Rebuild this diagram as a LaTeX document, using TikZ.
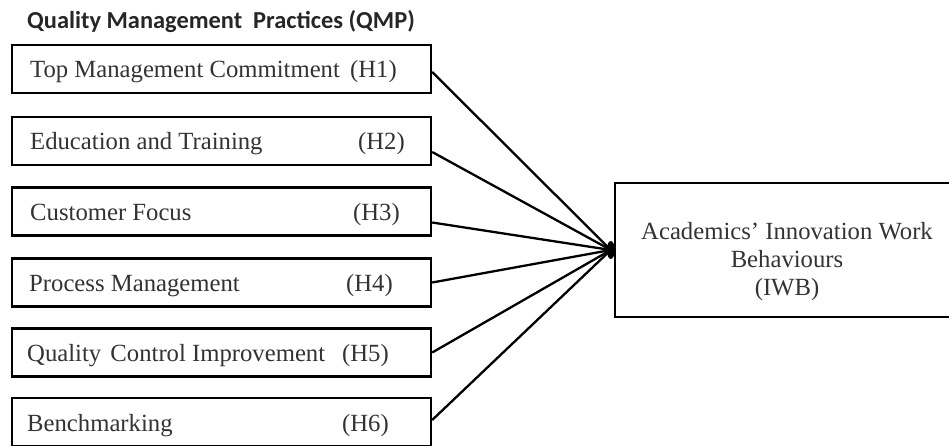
\documentclass[tikz,border=0pt]{standalone}
\usepackage{fontspec}
\setmainfont{Liberation Serif}
\newfontfamily\titlefont{Carlito}
\begin{document}
\begin{tikzpicture}[x=1pt,y=-1pt,
  qbox/.style={draw=black,line width=2.4pt,minimum width=419pt,minimum height=48pt,inner sep=0pt,fill=white},
  txt/.style={anchor=base west,inner sep=0pt,font=\fontsize{24.7}{28}\selectfont,text=black!80},
  hlab/.style={anchor=base east,inner sep=0pt,font=\fontsize{24.7}{28}\selectfont,text=black!80},
  link/.style={draw=black,line width=2.3pt}]
\useasboundingbox (0,0) rectangle (949,446);
\clip (0,0) rectangle (949,446);
\node[anchor=base west,inner sep=0pt,font=\titlefont\bfseries\fontsize{24.4}{27}\selectfont,text=black!85] (title) at (27,29) {Quality Management\ \ Practices (QMP)};
% left boxes
\node[qbox] (b1) at (221.5,69) {};
\node[qbox] (b2) at (221.5,141) {};
\node[qbox] (b3) at (221.5,211.5) {};
\node[qbox] (b4) at (221.5,282.5) {};
\node[qbox] (b5) at (221.5,352.5) {};
\node[qbox] (b6) at (221.5,422) {};
% texts
\node[txt] (t1) at (30,78) {Top Management Commitment};
\node[hlab] (h1) at (397,78) {(H1)};
\node[txt] (t2) at (30,150) {Education and Training};
\node[hlab] (h2) at (405,150) {(H2)};
\node[txt] (t3) at (30,220.5) {Customer Focus};
\node[hlab] (h3) at (400,220.5) {(H3)};
\node[txt] (t4) at (29,291.5) {Process Management};
\node[hlab] (h4) at (393,291.5) {(H4)};
\node[txt] (t5) at (27,361.5) {Quality\hspace{3pt} Control Improvement};
\node[hlab] (h5) at (389,361.5) {(H5)};
\node[txt] (t6) at (27,431) {Benchmarking};
\node[hlab] (h6) at (389,431) {(H6)};
% right box
\node[draw=black,line width=2.4pt,minimum width=350pt,minimum height=134pt,inner sep=0pt] (iwb) at (790,250) {};
\node[align=center,inner sep=0pt,font=\fontsize{24.7}{28}\selectfont,text=black!80] (iwbt) at (787,262) {Academics’ Innovation Work\\Behaviours\\(IWB)};
\coordinate (hub) at ([xshift=-3pt]iwb.west);
% connectors
\draw[link] ([yshift=-3pt]b1.east) -- (hub);
\draw[link] ([yshift=-11pt]b2.east) -- (hub);
\draw[link] ([yshift=-11pt]b3.east) -- (hub);
\draw[link] (b4.east) -- (hub);
\draw[link] (b5.east) -- (hub);
\draw[link] ([yshift=2pt]b6.east) -- (hub);
\fill[black] (hub) ellipse [x radius=4pt, y radius=9pt];
\end{tikzpicture}
\end{document}
